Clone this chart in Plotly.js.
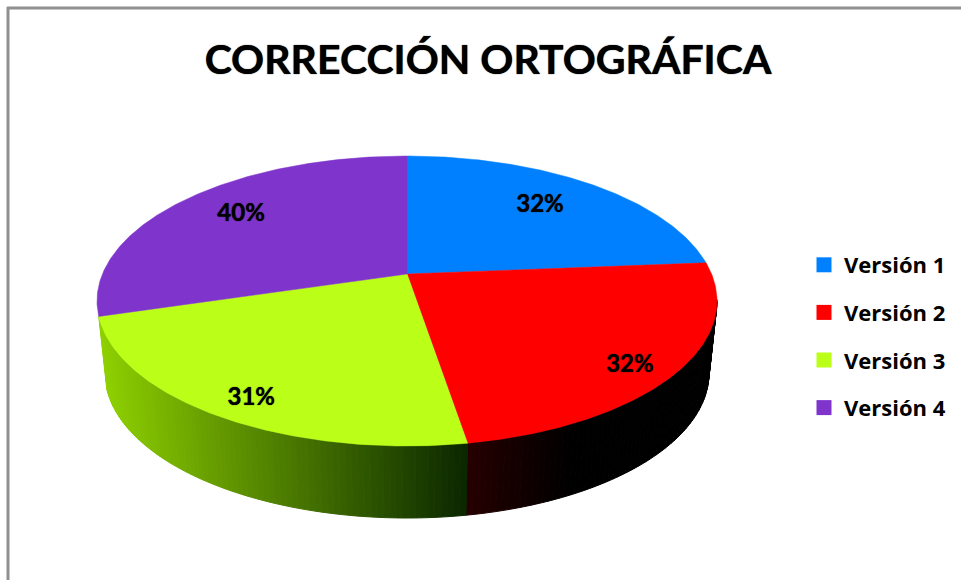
<!DOCTYPE html>
<html>
<head>
<meta charset="utf-8">
<script src="https://cdn.plot.ly/plotly-3.0.1.min.js"></script>
<style>html,body{margin:0;padding:0;background:#fff;overflow:hidden}</style>
</head>
<body>
<div id="chart" style="width:961px;height:580px"></div>
<script>
// ---- data ----
const categories = ['Versión 1', 'Versión 2', 'Versión 3', 'Versión 4'];
const values = [32, 32, 31, 40];
const chartTitle = 'CORRECCIÓN ORTOGRÁFICA';

// ---- styling / projection settings ----
const colors = ['#0080ff', '#ff0000', '#bbff19', '#7f35cc'];
const labelRadius = [0.73, 0.87, 0.87, 0.72];
const labelNudge = [[-4, 0], [-9, 9], [7, 5], [-3, -3]];
const topE = {cx: 407, cy: 301, rx: 310, ry: 145};
const botE = {cx: 407, cy: 373, rx: 302, ry: 145};
const persp = 0.186;                // perspective shift of the pie's apex
const wallRamp = {
  1: {x0: 468, x1: 570, c0: [38, 0, 0], c1: [0, 0, 0]},
  2: {x0: 100, x1: 468, c0: [142, 208, 0], c1: [10, 38, 0]}
};

const total = values.reduce((a, b) => a + b, 0);
const rad = d => d * Math.PI / 180;

// disc coordinates (unit circle) -> projected unit-disc coordinates
function project(angleDeg, r) {
  const X = r * Math.cos(rad(angleDeg)), Y = r * Math.sin(rad(angleDeg));
  const w = 1 + persp * Y;
  return [X * Math.sqrt(1 - persp * persp) / w, (Y + persp) / w];
}
const onE = (E, p) => [E.cx + E.rx * p[0], E.cy - E.ry * p[1]];

const traces = [];
let start = 90;
const slices = values.map(v => {
  const a0 = start, a1 = start - v / total * 360;
  start = a1;
  return {a0, a1};
});

// side wall, drawn as thin shaded strips
slices.forEach((s, i) => {
  const ramp = wallRamp[i];
  if (!ramp) return;
  const n = Math.ceil(s.a0 - s.a1);
  for (let k = 0; k < n; k++) {
    const b0 = s.a0 + (s.a1 - s.a0) * k / n, b1 = s.a0 + (s.a1 - s.a0) * (k + 1) / n;
    const p0 = project(b0, 1), p1 = project(b1, 1);
    if (p0[1] > 0 && p1[1] > 0) continue;
    const A = onE(topE, p0), B = onE(topE, p1), C = onE(botE, p1), D = onE(botE, p0);
    const mx = (A[0] + B[0]) / 2;
    const t = Math.max(0, Math.min(1, (mx - ramp.x0) / (ramp.x1 - ramp.x0)));
    const c = ramp.c0.map((c0, j) => Math.round(c0 + (ramp.c1[j] - c0) * t));
    const col = `rgb(${c.join(',')})`;
    traces.push({
      type: 'scatter', mode: 'lines', fill: 'toself', fillcolor: col,
      x: [A[0], B[0], C[0], D[0], A[0]], y: [A[1], B[1], C[1], D[1], A[1]],
      line: {color: col, width: 1}, showlegend: false, hoverinfo: 'skip'
    });
  }
});

// top faces
slices.forEach((s, i) => {
  const apex = onE(topE, project(0, 0));
  const xs = [apex[0]], ys = [apex[1]];
  const n = Math.ceil((s.a0 - s.a1) * 2);
  for (let k = 0; k <= n; k++) {
    const P = onE(topE, project(s.a0 + (s.a1 - s.a0) * k / n, 1));
    xs.push(P[0]); ys.push(P[1]);
  }
  xs.push(apex[0]); ys.push(apex[1]);
  traces.push({
    type: 'scatter', mode: 'lines', fill: 'toself', fillcolor: colors[i],
    x: xs, y: ys, line: {color: colors[i], width: 0.5},
    name: categories[i], showlegend: false, hoverinfo: 'name'
  });
});

// data labels
const lab = slices.map((s, i) => {
  const p = onE(topE, project((s.a0 + s.a1) / 2, labelRadius[i]));
  return [p[0] + labelNudge[i][0], p[1] + labelNudge[i][1]];
});
traces.push({
  type: 'scatter', mode: 'text',
  x: lab.map(p => p[0]), y: lab.map(p => p[1]),
  text: values.map(v => v + '%'), textposition: 'middle center',
  textfont: {family: 'Lato, Carlito, sans-serif', size: 24, color: '#000', weight: 700, shadow: '0 0 1px #000'},
  showlegend: false, hoverinfo: 'skip'
});

// legend entries
categories.forEach((c, i) => traces.push({
  type: 'scatter', mode: 'markers', x: [null], y: [null], name: c, legendgroup: c,
  marker: {symbol: 'square', size: 15, color: colors[i]}
}));

const layout = {
  width: 961, height: 580,
  margin: {l: 0, r: 0, t: 0, b: 0},
  paper_bgcolor: '#ffffff', plot_bgcolor: 'rgba(0,0,0,0)',
  title: {
    text: chartTitle, x: 488 / 961, xanchor: 'center', y: 1 - 60 / 580, yanchor: 'middle',
    font: {family: 'Lato, Carlito, sans-serif', size: 41, color: '#000', weight: 700, shadow: '0 0 1px #000'}
  },
  xaxis: {range: [0, 961], visible: false, fixedrange: true},
  yaxis: {range: [580, 0], visible: false, fixedrange: true},
  legend: {
    x: 804 / 961, y: 1 - 244 / 580, xanchor: 'left', yanchor: 'top',
    font: {family: 'Open Sans, sans-serif', size: 22, color: '#000', weight: 700},
    tracegroupgap: 16, itemclick: false, itemdoubleclick: false,
    bgcolor: 'rgba(0,0,0,0)', traceorder: 'grouped'
  },
  shapes: [
    {type: 'line', xref: 'x', yref: 'y', x0: 8, x1: 8, y0: 7, y1: 580, line: {color: '#909090', width: 3}},
    {type: 'line', xref: 'x', yref: 'y', x0: 7, x1: 961, y0: 8, y1: 8, line: {color: '#909090', width: 3}}
  ]
};
Plotly.newPlot('chart', traces, layout, {displayModeBar: false});
</script>
</body>
</html>
